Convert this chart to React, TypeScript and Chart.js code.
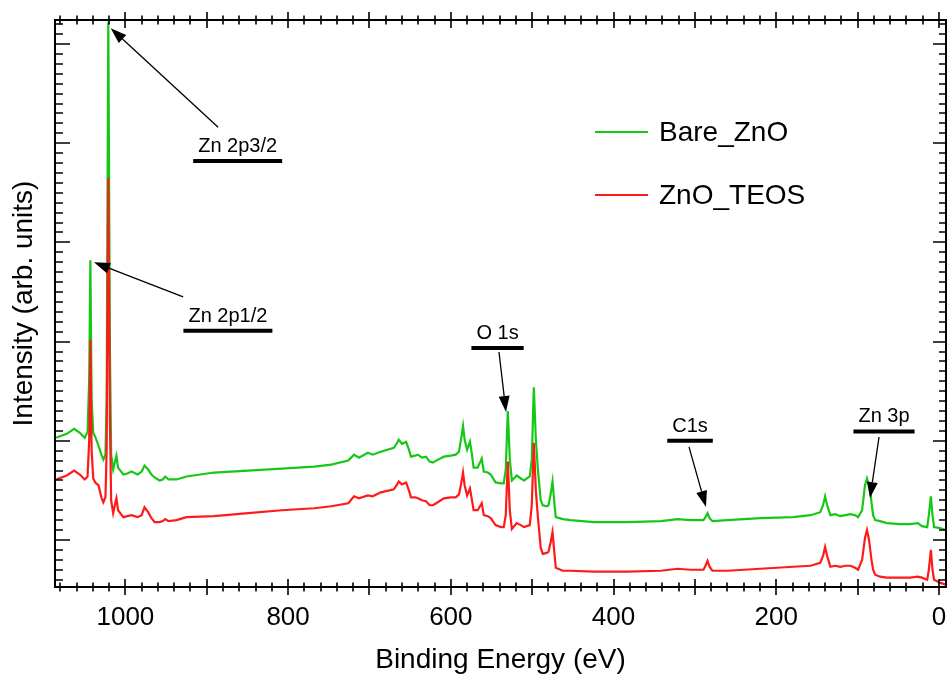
import React, { useEffect, useRef } from 'react';
import { Chart, registerables } from 'chart.js';

Chart.register(...registerables);

// ---- data (binding energy in eV, intensity in arbitrary units) ----
const energies = [
  1085, 1082, 1072, 1063, 1056, 1050, 1046.5, 1044.5, 1043, 1041.5,
  1039.5, 1037, 1033, 1029.5, 1027, 1024.5, 1023, 1021, 1019, 1017.5,
  1015, 1013, 1011, 1009, 1002.5, 997.5, 992.5, 985, 980, 976.5,
  972, 968, 964, 958, 954, 951, 947, 937, 925, 891,
  849, 808, 768, 747, 726, 719, 713, 702, 696, 686,
  670, 666, 664, 660, 655, 651.5, 649, 644, 640.5, 635.5,
  630.5, 626, 622, 618, 608.5, 600, 594, 590, 587.5, 585,
  583, 580, 576.5, 574, 572, 567, 562, 559.5, 554.5, 551,
  545, 538.5, 535, 532.5, 530, 527.5, 525, 519, 514, 510,
  503, 500.5, 498, 495.5, 493, 489.5, 487, 482, 480, 477.5,
  475, 472.5, 471, 462.5, 453, 424.5, 383, 342, 321.5, 305.5,
  289.5, 287, 284.5, 282, 278.5, 260, 219.5, 179, 158, 146,
  142.5, 140, 137.5, 133.5, 127.5, 121.5, 115, 109, 103, 99.5,
  94.5, 91, 88.5, 86, 84.5, 83, 81, 78.5, 72.5, 64,
  48, 35.5, 26, 21, 14.5, 12.5, 10, 8, 6, -1,
  -8.5,
];

const bareZnO = [
  153, 154, 157, 162, 158, 153, 159, 211, 332, 191,
  158, 154, 145, 136, 131, 136, 191, 572, 242, 136,
  121, 128, 135, 123, 116, 117, 119, 116, 119, 125,
  121, 116, 113, 110, 111, 114, 111, 111, 114, 118,
  120, 122, 124, 126, 130, 136, 133, 138, 136, 139,
  143, 148, 151, 147, 149, 141, 134, 135, 136, 133,
  134, 129, 128, 130, 134, 135, 136, 139, 151, 165,
  151, 141, 149, 136, 123, 123, 132, 119, 118, 116,
  108, 107, 107, 121, 180, 131, 110, 115, 112, 110,
  114, 131, 204, 151, 121, 90, 85, 84, 85, 95,
  109, 85, 73, 71, 70, 68, 68, 69, 71, 70,
  70, 73, 77, 72, 69, 70, 72, 73, 75, 78,
  85, 94, 85, 75, 76, 74, 75, 76, 75, 73,
  80, 105, 112, 105, 100, 88, 75, 70, 69, 67,
  66, 66, 67, 64, 63, 75, 94, 75, 63, 62,
  60,
];

const znoTeos = [
  111, 112, 115, 120, 116, 111, 114, 150, 252, 140,
  112, 108, 105, 93, 88, 93, 141, 415, 171, 90,
  77, 85, 92, 80, 73, 74, 75, 73, 75, 83,
  78, 72, 68, 68, 69, 71, 69, 70, 73, 74,
  77, 80, 82, 84, 87, 94, 92, 95, 94, 98,
  101, 106, 109, 106, 108, 100, 93, 93, 92, 90,
  89, 85, 85, 87, 92, 93, 93, 96, 106, 118,
  105, 95, 102, 90, 80, 80, 87, 75, 74, 72,
  65, 63, 63, 75, 129, 80, 61, 67, 65, 63,
  65, 85, 148, 100, 73, 42, 36, 37, 38, 47,
  58, 35, 22, 19, 19, 18, 18, 19, 21, 20,
  20, 24, 29, 23, 19, 19, 21, 23, 24, 27,
  34, 43, 34, 23, 24, 23, 24, 24, 22, 20,
  30, 52, 60, 50, 40, 30, 20, 15, 13, 12,
  12, 12, 13, 12, 10, 20, 40, 20, 10, 7,
  5,
];

const seriesNames = ['Bare_ZnO', 'ZnO_TEOS'];
const seriesColors = ['#16c816', '#ff1a1a'];

// ---- axes ----
const xRange = [-8.6, 1086.5];
const yRange = [2.6, 574.2];
const xLabelTicks = [0, 200, 400, 600, 800, 1000];
const xMajorStep = 100;
const xMinorStep = 20;
const yMajorStep = 100;
const yMajorOffset = 50;
const yMinorStep = 10;

// ---- peak annotations ----
const peakLabels = ['Zn 2p3/2', 'Zn 2p1/2', 'O 1s', 'C1s', 'Zn 3p'];
const labelEnergies = [862, 874, 542.6, 306, 67.6];
const labelIntensities = [432, 261, 243.5, 150, 159.4];
const arrowFromEnergies = [886, 929, 540.8, 307.3, 73.7];
const arrowFromIntensities = [466, 295, 239.5, 143.8, 153.8];
const arrowToEnergies = [1018, 1038.6, 532.2, 286.4, 84.8];
const arrowToIntensities = [566, 330, 179, 83.3, 92.3];

const FONT = "'Liberation Sans', Arial, sans-serif";

const decorPlugin = {
  id: 'decor',
  afterDatasetsDraw(chart: any) {
    const { ctx, chartArea: a, scales } = chart;
    const xs = scales.x;
    const ys = scales.y;
    ctx.save();
    ctx.strokeStyle = '#000';
    ctx.fillStyle = '#000';

    // x ticks (crossing top and bottom axes)
    ctx.lineWidth = 1.6;
    const kStart = Math.ceil(xRange[0] / xMinorStep);
    for (let k = kStart; k * xMinorStep <= xRange[1]; k++) {
      const v = k * xMinorStep;
      const px = Math.round(xs.getPixelForValue(v));
      const major = v % xMajorStep === 0;
      const len = major ? 8 : 4.5;
      ctx.beginPath();
      ctx.moveTo(px, a.bottom - len);
      ctx.lineTo(px, a.bottom + len);
      ctx.moveTo(px, a.top - len);
      ctx.lineTo(px, a.top + len);
      ctx.stroke();
    }
    // y ticks (inside, left and right)
    const jStart = Math.ceil(yRange[0] / yMinorStep);
    for (let j = jStart; j * yMinorStep <= yRange[1]; j++) {
      const v = j * yMinorStep;
      const py = Math.round(ys.getPixelForValue(v));
      const major = (v - yMajorOffset) % yMajorStep === 0;
      ctx.beginPath();
      ctx.moveTo(a.left, py);
      ctx.lineTo(a.left + (major ? 15 : 8), py);
      ctx.moveTo(a.right, py);
      ctx.lineTo(a.right - (major ? 13 : 7), py);
      ctx.stroke();
    }

    // frame
    ctx.lineWidth = 2;
    ctx.strokeRect(a.left, a.top, a.right - a.left, a.bottom - a.top);

    // annotations
    ctx.font = `20px ${FONT}`;
    ctx.textAlign = 'center';
    ctx.textBaseline = 'alphabetic';
    for (let i = 0; i < peakLabels.length; i++) {
      const lx = xs.getPixelForValue(labelEnergies[i]);
      const ly = ys.getPixelForValue(labelIntensities[i]);
      const w = ctx.measureText(peakLabels[i]).width + 10;
      ctx.fillText(peakLabels[i], lx, ly - 9);
      ctx.lineWidth = 4;
      ctx.beginPath();
      ctx.moveTo(lx - w / 2, ly);
      ctx.lineTo(lx + w / 2, ly);
      ctx.stroke();

      const x1 = xs.getPixelForValue(arrowFromEnergies[i]);
      const y1 = ys.getPixelForValue(arrowFromIntensities[i]);
      const x2 = xs.getPixelForValue(arrowToEnergies[i]);
      const y2 = ys.getPixelForValue(arrowToIntensities[i]);
      const ang = Math.atan2(y2 - y1, x2 - x1);
      const hl = 16;
      const hw = 5.5;
      const bx = x2 - hl * Math.cos(ang);
      const by = y2 - hl * Math.sin(ang);
      ctx.lineWidth = 1.3;
      ctx.beginPath();
      ctx.moveTo(x1, y1);
      ctx.lineTo(bx, by);
      ctx.stroke();
      ctx.beginPath();
      ctx.moveTo(x2, y2);
      ctx.lineTo(bx + hw * Math.sin(ang), by - hw * Math.cos(ang));
      ctx.lineTo(bx - hw * Math.sin(ang), by + hw * Math.cos(ang));
      ctx.closePath();
      ctx.fill();
    }

    // legend
    const legendY = [132, 195];
    ctx.font = `28px ${FONT}`;
    ctx.textAlign = 'left';
    ctx.textBaseline = 'middle';
    chart.data.datasets.forEach((ds: any, i: number) => {
      ctx.strokeStyle = ds.borderColor;
      ctx.lineWidth = 2;
      ctx.beginPath();
      ctx.moveTo(595, legendY[i]);
      ctx.lineTo(648, legendY[i]);
      ctx.stroke();
      ctx.fillStyle = '#000';
      ctx.fillText(ds.label, 659, legendY[i] + 1);
    });
    ctx.restore();
  },
};

export default function App() {
  const canvasRef = useRef<HTMLCanvasElement | null>(null);

  useEffect(() => {
    const canvas = canvasRef.current;
    if (!canvas) return;
    Chart.defaults.font.family = FONT;
    const chart = new Chart(canvas, {
      type: 'line',
      data: {
        datasets: [
          {
            label: seriesNames[0],
            data: energies.map((e, i) => ({ x: e, y: bareZnO[i] })),
            borderColor: seriesColors[0],
            borderWidth: 2.2,
            pointRadius: 0,
            tension: 0,
            fill: false,
            order: 1,
          },
          {
            label: seriesNames[1],
            data: energies.map((e, i) => ({ x: e, y: znoTeos[i] })),
            borderColor: seriesColors[1],
            borderWidth: 2.2,
            pointRadius: 0,
            tension: 0,
            fill: false,
            order: 0,
          },
        ],
      },
      options: {
        responsive: false,
        animation: false,
        layout: { padding: { top: 20, right: 2, left: 0, bottom: 0 } },
        plugins: {
          legend: { display: false },
          tooltip: { enabled: false },
        },
        scales: {
          x: {
            type: 'linear',
            position: 'bottom',
            reverse: true,
            min: xRange[0],
            max: xRange[1],
            grid: { display: false, drawTicks: false },
            border: { display: false },
            ticks: {
              color: '#000',
              font: { size: 26, family: FONT },
              padding: 15,
              maxRotation: 0,
              autoSkip: false,
              callback: (v: any) => String(v),
            },
            afterBuildTicks: (scale: any) => {
              scale.ticks = xLabelTicks.map((v) => ({ value: v }));
            },
            afterFit: (scale: any) => {
              scale.height = 90;
            },
            title: {
              display: true,
              text: 'Binding Energy (eV)',
              color: '#000',
              font: { size: 28, family: FONT },
              padding: { top: 0, bottom: 0 },
            },
          },
          y: {
            type: 'linear',
            min: yRange[0],
            max: yRange[1],
            grid: { display: false, drawTicks: false },
            border: { display: false },
            ticks: { display: false },
            afterFit: (scale: any) => {
              scale.width = 55;
            },
            title: {
              display: true,
              text: 'Intensity (arb. units)',
              color: '#000',
              font: { size: 28, family: FONT },
              padding: { top: 7, bottom: 0 },
            },
          },
        },
      },
      plugins: [decorPlugin],
    });
    return () => chart.destroy();
  }, []);

  return (
    <div style={{ position: 'absolute', left: 0, top: 0, width: 948, height: 677, background: '#fff' }}>
      <canvas ref={canvasRef} width={948} height={677} style={{ display: 'block' }} />
    </div>
  );
}
